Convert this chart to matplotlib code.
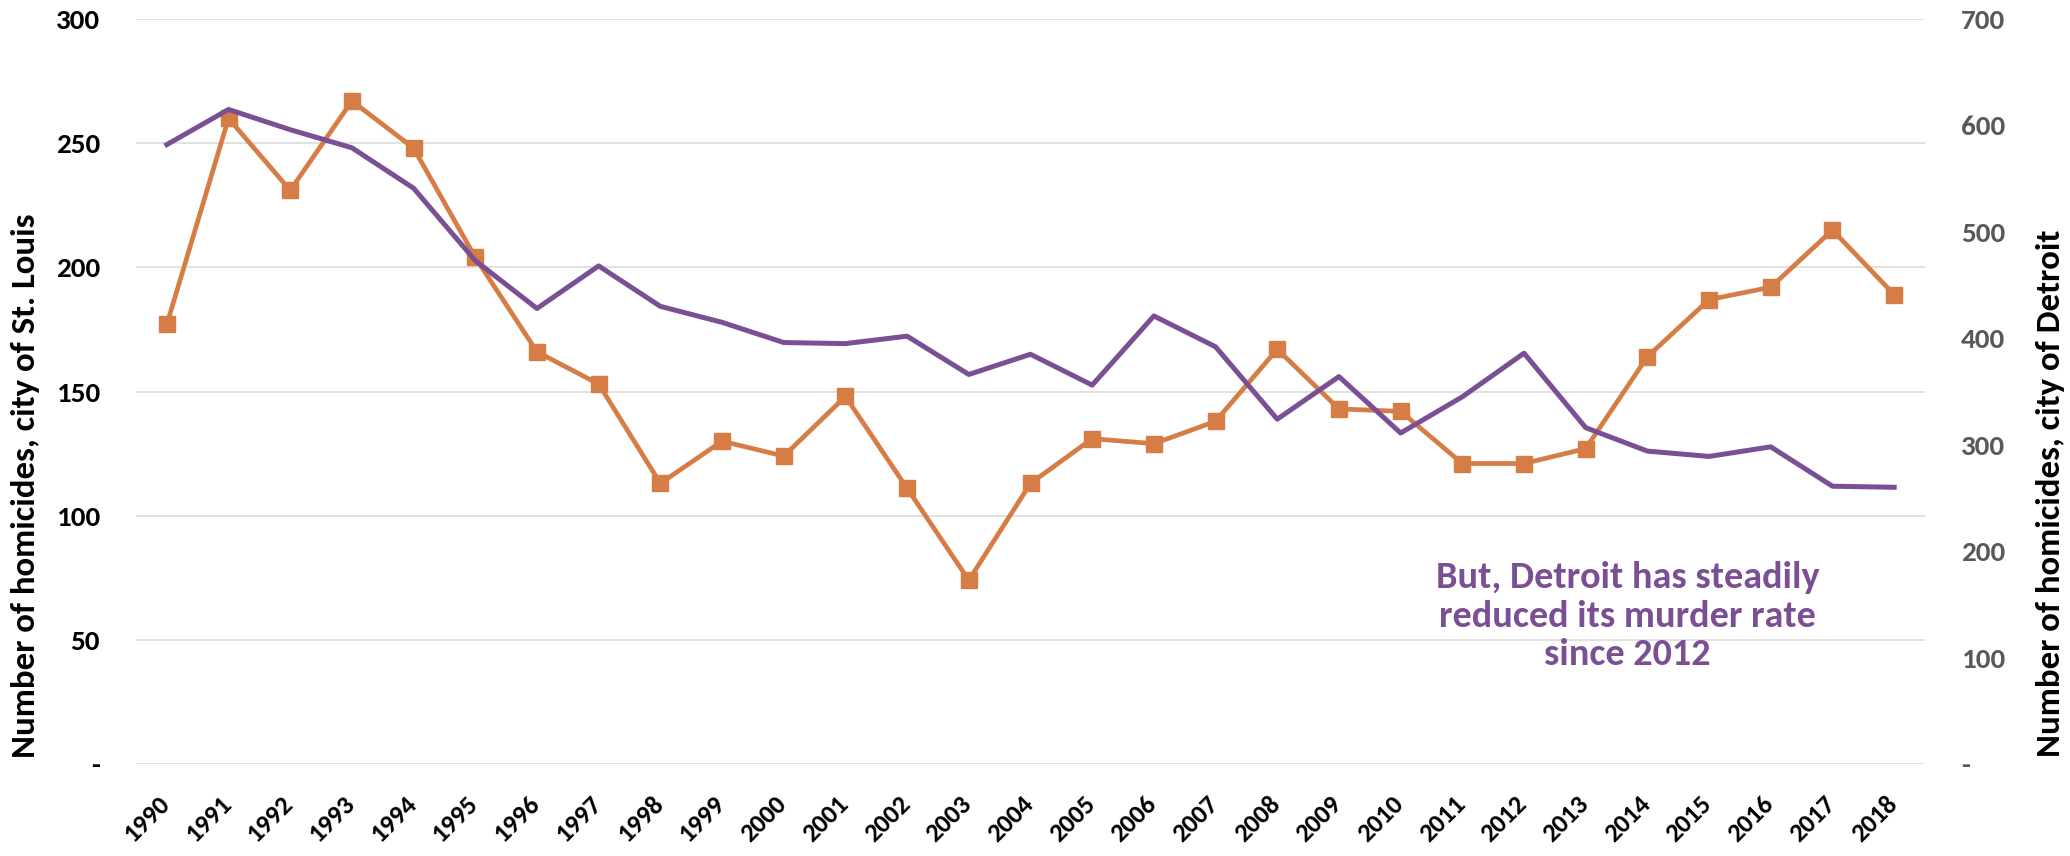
import matplotlib
matplotlib.use("Agg")
from matplotlib import pyplot as plt
from matplotlib.transforms import ScaledTranslation
import numpy as np

# data
years = [str(y) for y in range(1990, 2019)]
st_louis = [177, 260, 231, 267, 248, 204, 166, 153, 113, 130, 124, 148, 111, 74, 113,
            131, 129, 138, 167, 143, 142, 121, 121, 127, 164, 187, 192, 215, 189]
detroit = [582, 615, 596, 579, 541, 473, 428, 468, 430, 415, 396, 395, 402, 366, 385,
           356, 421, 392, 324, 364, 311, 345, 386, 316, 294, 289, 298, 261, 260]
left_ticks = [0, 50, 100, 150, 200, 250, 300]
left_labels = ["-", "50", "100", "150", "200", "250", "300"]
right_ticks = [0, 100, 200, 300, 400, 500, 600, 700]
right_labels = ["-", "100", "200", "300", "400", "500", "600", "700"]
note = "But, Detroit has steadily\nreduced its murder rate\nsince 2012"

orange = "#D67D46"
purple = "#7A4F94"
font = "Carlito"  # metric twin of Calibri

fig = plt.figure(figsize=(20.70, 8.56), dpi=100)
ax = fig.add_axes([136/2070, 1 - 764/856, 1789/2070, 745/856])
ax2 = ax.twinx()

x = np.arange(len(years))
ax.plot(x, st_louis, color=orange, linewidth=3.4, marker="s", markersize=11,
        markeredgewidth=1, zorder=3)
ax2.plot(x, detroit, color=purple, linewidth=3.6, zorder=3)

ax.set_xlim(-0.5, len(years) - 0.5)
ax.set_ylim(0, 300)
ax2.set_ylim(0, 700)

ax.set_yticks(left_ticks)
ax.set_yticklabels(left_labels, fontfamily=font, fontweight="bold", fontsize=21,
                   color="black")
ax2.set_yticks(right_ticks)
ax2.set_yticklabels(right_labels, fontfamily=font, fontweight="bold", fontsize=21,
                    color="#595959")
ax.tick_params(axis="y", length=0, pad=26)
ax2.tick_params(axis="y", length=0, pad=26)

ax.set_xticks(x)
ax.set_xticklabels(years, rotation=45, ha="right", va="top", fontfamily=font,
                   fontweight="bold", fontsize=19)
ax.tick_params(axis="x", length=0, pad=20)
shift = ScaledTranslation(7/100, 0, fig.dpi_scale_trans)
for lab in ax.get_xticklabels():
    lab.set_transform(lab.get_transform() + shift)

ax.grid(axis="y", color="#D9D9D9", linewidth=1.1)
ax.set_axisbelow(True)
for a in (ax, ax2):
    for s in a.spines.values():
        s.set_visible(False)

ax.set_ylabel("Number of homicides, city of St. Louis", fontfamily=font,
              fontweight="bold", fontsize=25, va="center")
ax.yaxis.set_label_coords(-0.062, 0.374)
ax2.set_ylabel("Number of homicides, city of Detroit", fontfamily=font,
               fontweight="bold", fontsize=25, rotation=90, va="center")
ax2.yaxis.set_label_coords(1.070, 0.364)

ax2.text(23.68, 139, note, color=purple, fontfamily=font, fontweight="bold",
         fontsize=27.5, ha="center", va="center", linespacing=1.2)

fig.savefig("out.png", dpi=100)
